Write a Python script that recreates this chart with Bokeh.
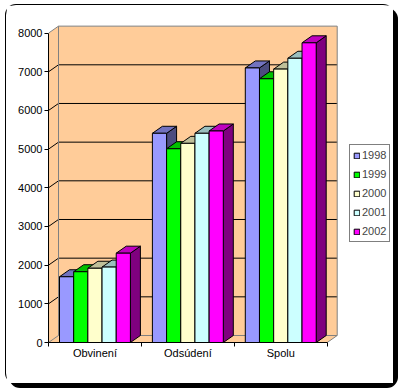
from bokeh.plotting import figure
from bokeh.models import ColumnDataSource, Range1d, FixedTicker, Legend, LegendItem
from bokeh.embed import file_html
from bokeh.resources import INLINE

# ---- data ----
categories = ["Obvinení", "Odsúdení", "Spolu"]
years = ["1998", "1999", "2000", "2001", "2002"]
obvineni = [1700, 1830, 1920, 1950, 2310]
odsudeni = [5410, 5010, 5150, 5410, 5470]
spolu = [7100, 6820, 7070, 7350, 7750]
y_ticks = [0, 1000, 2000, 3000, 4000, 5000, 6000, 7000, 8000]

# ---- style ----
year_colors = ["#9999FF", "#00FF00", "#FFFFCC", "#CCFFFF", "#FF00FF"]
wall_color = "#FFCC99"
wall_edge = "#808080"
FONT = "Liberation Sans"
FS = "11px"

W, H = 387, 378
LEFT, BOTTOM = 42, 41
FRAME_W, FRAME_H = W - LEFT, H - BOTTOM
PX_PER_1000 = 38.67
CAT_PX = 92.9
DEPTH_X_PX, DEPTH_Y_PX = 10, 7

y_end = FRAME_H / PX_PER_1000 * 1000
x_end = FRAME_W / CAT_PX
dx = DEPTH_X_PX / CAT_PX
dy = DEPTH_Y_PX / PX_PER_1000 * 1000
GAP = 11 / CAT_PX
BW = (1 - 2 * GAP) / 5
y_max = y_ticks[-1]
n_cat = len(categories)


def shade(c, f):
    r, g, b = int(c[1:3], 16), int(c[3:5], 16), int(c[5:7], 16)
    return "#%02x%02x%02x" % (int(r * f), int(g * f), int(b * f))


p = figure(width=W, height=H, x_range=Range1d(0, x_end), y_range=Range1d(0, y_end),
           toolbar_location=None, output_backend="svg", title=None,
           min_border_left=LEFT, min_border_right=0, min_border_top=0,
           min_border_bottom=BOTTOM,
           background_fill_color="white", border_fill_color="white",
           styles={"box-shadow": "0 0 0 1px black, 4px 4px 0 1px black",
                   "border-radius": "10px",
                   "margin-left": "6px", "margin-top": "5px"})
p.outline_line_color = None
p.xgrid.visible = False
p.ygrid.visible = False

# ---- walls & floor ----
p.patches(
    xs=[[dx, n_cat + dx, n_cat + dx, dx],
        [0, 0, dx, dx],
        [0, n_cat, n_cat + dx, dx]],
    ys=[[dy, dy, y_max + dy, y_max + dy],
        [0, y_max, y_max + dy, dy],
        [0, 0, dy, dy]],
    fill_color=wall_color, line_color=None)

# gridlines on back wall and side wall
grid_levels = y_ticks[1:-1]
p.multi_line(xs=[[dx, n_cat + dx] for v in grid_levels] + [[0, dx] for v in grid_levels],
             ys=[[v + dy, v + dy] for v in grid_levels] + [[v, v + dy] for v in grid_levels],
             line_color="black", line_width=1)
# wall edges (gray)
p.multi_line(
    xs=[[dx, dx, n_cat + dx, n_cat + dx], [0, dx], [0, dx], [dx, n_cat + dx], [n_cat, n_cat + dx]],
    ys=[[dy, y_max + dy, y_max + dy, dy], [y_max, y_max + dy], [0, dy], [dy, dy], [0, dy]],
    line_color=wall_edge, line_width=1)

# ---- bars: sides & tops (painter order), then fronts ----
values_by_cat = [obvineni, odsudeni, spolu]
sx, sy, sc = [], [], []
for c in range(n_cat):
    for k in range(len(years)):
        v = values_by_cat[c][k]
        l = c + GAP + k * BW
        r = l + BW
        sx.append([r, r + dx, r + dx, r]); sy.append([0, dy, v + dy, v]); sc.append(shade(year_colors[k], 0.5))
        sx.append([l, r, r + dx, l + dx]); sy.append([v, v, v + dy, v + dy]); sc.append(shade(year_colors[k], 0.75))
p.patches(xs="xs", ys="ys", fill_color="c", line_color="black", line_width=1,
          source=ColumnDataSource(dict(xs=sx, ys=sy, c=sc)))

items = []
for k, yr in enumerate(years):
    lefts = [c + GAP + k * BW for c in range(n_cat)]
    rights = [x + BW for x in lefts]
    tops = [values_by_cat[c][k] for c in range(n_cat)]
    r = p.quad(left=lefts, right=rights, bottom=0, top=tops,
               fill_color=year_colors[k], line_color="black", line_width=1)
    items.append(LegendItem(label=yr, renderers=[r]))

# ---- axes ----
ya = p.yaxis[0]
ya.ticker = FixedTicker(ticks=y_ticks, minor_ticks=[])
ya.bounds = (0, y_max)
ya.major_tick_out = 4
ya.major_tick_in = 0
ya.minor_tick_out = 0
ya.minor_tick_in = 0
ya.major_label_standoff = 2
ya.axis_line_color = "black"
ya.major_tick_line_color = "black"
ya.major_label_text_font = FONT
ya.major_label_text_font_size = FS
ya.major_label_text_color = "black"

xa = p.xaxis[0]
centers = [c + 0.5 for c in range(n_cat)]
xa.ticker = FixedTicker(ticks=centers, minor_ticks=list(range(n_cat + 1)))
xa.major_label_overrides = {centers[i]: categories[i] for i in range(n_cat)}
xa.bounds = (0, n_cat)
xa.major_tick_out = 0
xa.major_tick_in = 0
xa.minor_tick_out = 4
xa.minor_tick_in = 0
xa.minor_tick_line_color = "black"
xa.major_label_standoff = 0
xa.axis_line_color = "black"
xa.major_label_text_font = FONT
xa.major_label_text_font_size = FS
xa.major_label_text_color = "black"

# ---- legend ----
legend = Legend(items=items, location=(301, 100), orientation="vertical",
                padding=3, spacing=5, margin=0, label_height=14,
                glyph_height=7, glyph_width=7, label_standoff=2,
                label_text_font=FONT, label_text_font_size=FS,
                border_line_color="black", border_line_width=1,
                background_fill_color="white", background_fill_alpha=1)
p.add_layout(legend)

open("out.html", "w").write(file_html(p, INLINE))
